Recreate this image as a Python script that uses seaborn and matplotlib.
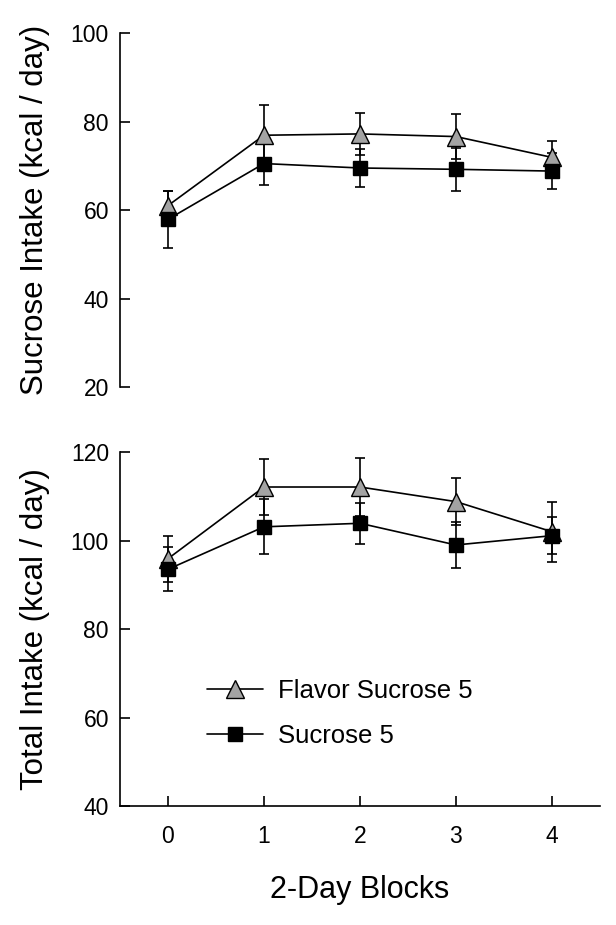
import numpy as np
import pandas as pd
import matplotlib
matplotlib.use("Agg")
import matplotlib.pyplot as plt
import seaborn as sns

blocks = [0, 1, 2, 3, 4]
groups = ["Flavor Sucrose 5", "Sucrose 5"]

# Sucrose intake (kcal / day), mean and SEM
sucrose_flavor = [61.0, 76.9, 77.2, 76.6, 71.9]
sucrose_flavor_sem = [3.4, 6.8, 4.8, 5.0, 3.7]
sucrose_plain = [57.9, 70.5, 69.5, 69.2, 68.8]
sucrose_plain_sem = [6.4, 4.9, 4.4, 4.8, 4.1]

# Total intake (kcal / day), mean and SEM
total_flavor = [95.9, 112.1, 112.1, 108.8, 102.0]
total_flavor_sem = [5.2, 6.3, 6.6, 5.3, 6.8]
total_plain = [93.5, 103.1, 103.9, 99.0, 101.1]
total_plain_sem = [5.0, 6.2, 4.6, 5.1, 4.2]

sns.set_style("ticks")
plt.rcParams["font.family"] = ["Liberation Sans", "DejaVu Sans"]
plt.rcParams.update({
    "text.color": "black",
    "axes.labelcolor": "black",
    "axes.edgecolor": "black",
    "xtick.color": "black",
    "ytick.color": "black",
})

fig = plt.figure(figsize=(6.16, 9.25), dpi=100)
ax1 = fig.add_axes([0.1948, 0.5816, 0.779, 0.3827])
ax2 = fig.add_axes([0.1948, 0.1286, 0.779, 0.3827])

styles = {
    "Flavor Sucrose 5": dict(marker="^", color="#a3a3a3", ms=13.5, z=3),
    "Sucrose 5": dict(marker="s", color="black", ms=10.5, z=4),
}


def draw_panel(ax, flavor, flavor_sem, plain, plain_sem):
    df = pd.DataFrame({
        "block": blocks * 2,
        "intake": flavor + plain,
        "sem": flavor_sem + plain_sem,
        "group": [groups[0]] * 5 + [groups[1]] * 5,
    })
    for g in groups:
        d = df[df["group"] == g]
        st = styles[g]
        ax.errorbar(d["block"], d["intake"], yerr=d["sem"], fmt="none",
                    ecolor="black", elinewidth=1.2, capsize=3.6,
                    capthick=1.2, zorder=st["z"] - 1.5)
        sns.lineplot(data=d, x="block", y="intake", ax=ax, color="black",
                     linewidth=1.2, marker=st["marker"],
                     markerfacecolor=st["color"], markeredgecolor="black",
                     markeredgewidth=1.0, markersize=st["ms"], label=g,
                     zorder=st["z"])
    ax.set_xlim(-0.5, 4.5)
    ax.set_xticks(blocks)
    ax.tick_params(direction="in", length=7, width=1.2, labelsize=16.5,
                   colors="black")
    ax.tick_params(axis="y", pad=8)
    ax.tick_params(axis="x", pad=14)
    for s in ["top", "right"]:
        ax.spines[s].set_visible(False)
    for s in ["left", "bottom"]:
        ax.spines[s].set_linewidth(1.2)
        ax.spines[s].set_color("black")
    ax.set_xlabel("")


draw_panel(ax1, sucrose_flavor, sucrose_flavor_sem, sucrose_plain, sucrose_plain_sem)
ax1.set_ylim(20, 100)
ax1.set_yticks([20, 40, 60, 80, 100])
ax1.spines["bottom"].set_visible(False)
ax1.tick_params(axis="x", bottom=False, labelbottom=False)
ax1.set_ylabel("Sucrose Intake (kcal / day)", fontsize=22.5)
ax1.yaxis.set_label_coords(-0.146, 0.5)
ax1.get_legend().remove()

draw_panel(ax2, total_flavor, total_flavor_sem, total_plain, total_plain_sem)
ax2.set_ylim(40, 120)
ax2.set_yticks([40, 60, 80, 100, 120])
ax2.set_ylabel("Total Intake (kcal / day)", fontsize=22.5)
ax2.yaxis.set_label_coords(-0.146, 0.5)
ax2.set_xlabel("2-Day Blocks", fontsize=22)
ax2.xaxis.set_label_coords(0.5, -0.195)
ax2.legend(loc="upper left", bbox_to_anchor=(0.181, 0.359), frameon=False,
           fontsize=18.5, borderpad=0, borderaxespad=0, handlelength=2.18,
           handletextpad=0.6, labelspacing=0.8)

fig.savefig("out.png", dpi=100)
